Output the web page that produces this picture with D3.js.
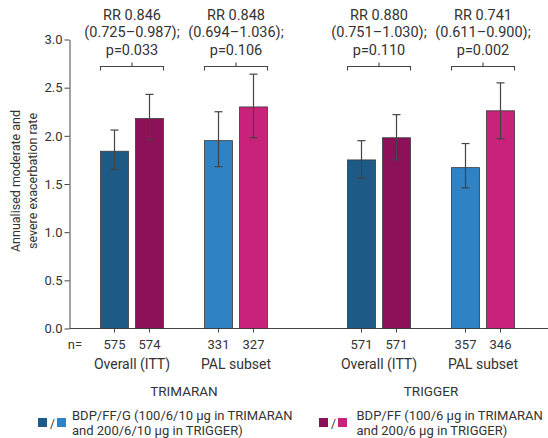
<!DOCTYPE html>
<html>
<head>
<meta charset="utf-8">
<script src="https://cdn.jsdelivr.net/npm/d3@7"></script>
<style>
  body { margin: 0; background: #fff; }
  svg text { font-family: Roboto, "Noto Sans", sans-serif; fill: #333; }
</style>
</head>
<body>
<svg id="chart" width="548" height="438"></svg>
<script>
// Studies and subgroups
const studies = ["TRIMARAN", "TRIGGER"];
const subgroups = ["Overall (ITT)", "PAL subset"];
const treatments = ["BDP/FF/G", "BDP/FF"];

// Annualised rates, [study][subgroup][treatment]
const rates = [
  [[1.84, 2.18], [1.95, 2.30]],
  [[1.75, 1.98], [1.67, 2.26]]
];
const ciLow = [
  [[1.65, 1.96], [1.68, 1.98]],
  [[1.56, 1.75], [1.46, 1.97]]
];
const ciHigh = [
  [[2.06, 2.43], [2.25, 2.64]],
  [[1.95, 2.22], [1.92, 2.55]]
];
const nValues = [
  [[575, 574], [331, 327]],
  [[571, 571], [357, 346]]
];
const rrText = [
  [["RR 0.846", "(0.725\u20130.987);", "p=0.033"], ["RR 0.848", "(0.694\u20131.036);", "p=0.106"]],
  [["RR 0.880", "(0.751\u20131.030);", "p=0.110"], ["RR 0.741", "(0.611\u20130.900);", "p=0.002"]]
];
const yTicks = [0, 0.5, 1.0, 1.5, 2.0, 2.5, 3.0];
const legendLabels = [
  ["BDP/FF/G (100/6/10 \u00b5g in TRIMARAN", "and 200/6/10 \u00b5g in TRIGGER)"],
  ["BDP/FF (100/6 \u00b5g in TRIMARAN", "and 200/6 \u00b5g in TRIGGER)"]
];
// colours per [treatment][subgroup]
const colors = [["#1d5b86", "#2f82c4"], ["#8c1158", "#c8227a"]];

const svg = d3.select("#chart");
const axisLeft = 69.5, axisBottom = 328.5;

const y = d3.scaleLinear().domain([0, 3]).range([axisBottom, 39.5]);
// group slot: subgroup index plus a wider gap between studies
const studyOffset = 2.375;
const xg = d3.scaleLinear().domain([0, 1]).range([132, 236]);
const barW = 28, barOff = 17.5;

const groups = [];
studies.forEach((s, si) => subgroups.forEach((g, gi) => {
  groups.push({ si, gi, cx: xg(si * studyOffset + gi) });
}));

// y axis
const yAxis = d3.axisLeft(y).tickValues(yTicks).tickFormat(d3.format(".1f")).tickSize(5).tickSizeOuter(0);
const gy = svg.append("g").attr("transform", `translate(${axisLeft},0)`).call(yAxis);
gy.select(".domain").attr("stroke", "#444");
gy.selectAll(".tick line").attr("stroke", "#444");
gy.selectAll(".tick text").attr("font-size", 13).attr("x", -7).style("font-family", "Roboto, sans-serif").attr("fill", "#333");

// x axis line
svg.append("line").attr("x1", axisLeft).attr("x2", 548).attr("y1", axisBottom).attr("y2", axisBottom)
  .attr("stroke", "#444").attr("stroke-width", 1);

// y label
svg.append("text")
  .attr("transform", `translate(20,${(y(0) + y(3)) / 2 - 3}) rotate(-90)`)
  .attr("text-anchor", "middle").attr("font-size", 12.5)
  .selectAll("tspan").data(["Annualised moderate and", "severe exacerbation rate"]).join("tspan")
  .attr("x", 0).attr("dy", (d, i) => i === 0 ? 0 : 17).text(d => d);

// bars, error bars, n labels
groups.forEach(g => {
  treatments.forEach((t, ti) => {
    const cx = g.cx + (ti === 0 ? -barOff : barOff);
    const v = rates[g.si][g.gi][ti];
    svg.append("rect")
      .attr("x", cx - barW / 2).attr("y", y(v))
      .attr("width", barW).attr("height", y(0) - y(v))
      .attr("fill", colors[ti][g.gi]).attr("stroke", "#3a3a3a").attr("stroke-width", 0.8);
    const lo = ciLow[g.si][g.gi][ti], hi = ciHigh[g.si][g.gi][ti];
    const eb = svg.append("g").attr("stroke", "#444").attr("stroke-width", 1.2);
    eb.append("line").attr("x1", cx).attr("x2", cx).attr("y1", y(lo)).attr("y2", y(hi));
    eb.append("line").attr("x1", cx - 4).attr("x2", cx + 4).attr("y1", y(lo)).attr("y2", y(lo));
    eb.append("line").attr("x1", cx - 4).attr("x2", cx + 4).attr("y1", y(hi)).attr("y2", y(hi));
    // x tick under bar
    svg.append("line").attr("x1", cx).attr("x2", cx).attr("y1", axisBottom).attr("y2", axisBottom + 4)
      .attr("stroke", "#444");
    svg.append("text").attr("x", cx).attr("y", 349).attr("text-anchor", "middle")
      .attr("font-size", 13).text(nValues[g.si][g.gi][ti]);
  });
  svg.append("text").attr("x", g.cx).attr("y", 368.5).attr("text-anchor", "middle")
    .attr("font-size", 14).text(subgroups[g.gi]);

  // comparison bracket
  const bx1 = g.cx - barOff - barW / 2, bx2 = g.cx + barOff + barW / 2, by = 66.5;
  svg.append("path")
    .attr("d", `M${bx1},${by + 4}V${by}H${bx2}V${by + 4}M${g.cx},${by}V${by - 4}`)
    .attr("fill", "none").attr("stroke", "#444").attr("stroke-width", 1.1);
  svg.append("text").attr("x", g.cx).attr("text-anchor", "middle").attr("font-size", 14.5)
    .selectAll("tspan").data(rrText[g.si][g.gi]).join("tspan")
    .attr("x", g.cx).attr("y", (d, i) => 19.5 + i * 17.5).text(d => d);
});

svg.append("text").attr("x", 75).attr("y", 349).attr("text-anchor", "middle").attr("font-size", 13).text("n=");

// study labels
studies.forEach((s, si) => {
  const c = (xg(si * studyOffset) + xg(si * studyOffset + 1)) / 2;
  svg.append("text").attr("x", c).attr("y", 395.5).attr("text-anchor", "middle")
    .attr("font-size", 13.5).text(s);
});

// legend
const legendX = [38, 319];
treatments.forEach((t, ti) => {
  const lg = svg.append("g").attr("transform", `translate(${legendX[ti]},0)`);
  lg.append("rect").attr("x", 0).attr("y", 418).attr("width", 9).attr("height", 9).attr("fill", colors[ti][0]);
  lg.append("text").attr("x", 14.5).attr("y", 427.5).attr("text-anchor", "middle").attr("font-size", 12).text("/");
  lg.append("rect").attr("x", 19).attr("y", 418).attr("width", 9).attr("height", 9).attr("fill", colors[ti][1]);
  lg.append("text").attr("font-size", 13)
    .selectAll("tspan").data(legendLabels[ti]).join("tspan")
    .attr("x", ti === 0 ? 34 : 37.5).attr("y", (d, i) => 420 + i * 15).text(d => d);
});
</script>
</body>
</html>
